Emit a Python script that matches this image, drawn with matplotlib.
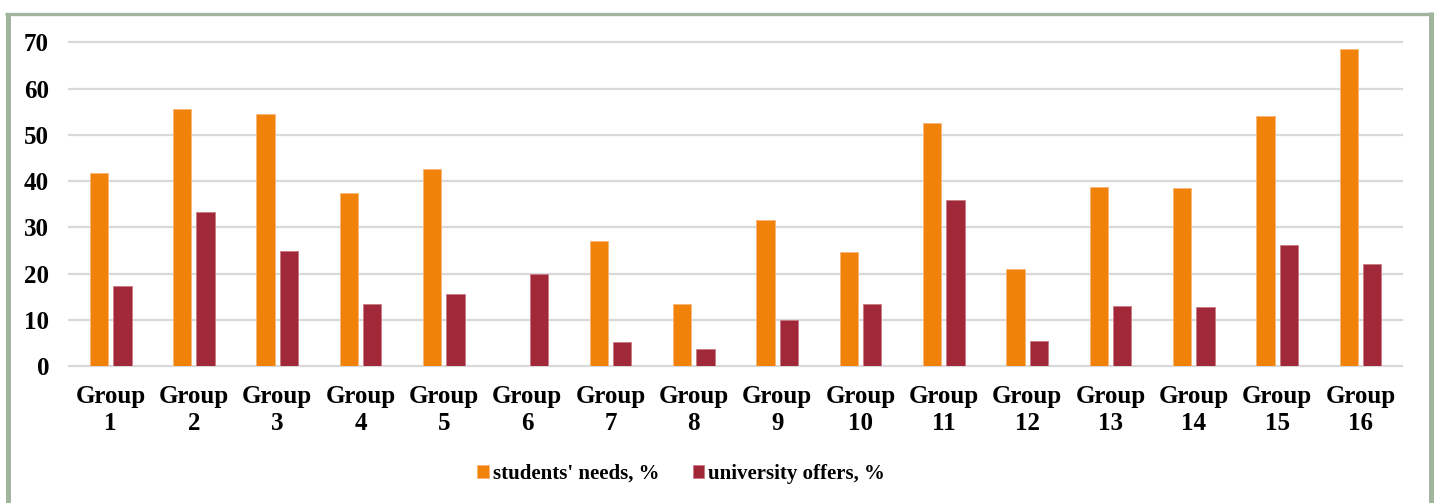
import matplotlib
matplotlib.use("Agg")
import matplotlib.pyplot as plt
from matplotlib.lines import Line2D
import numpy as np

groups = [f"Group\n{i}" for i in range(1, 17)]
students_needs = [41.7, 55.6, 54.6, 37.5, 42.5, 0, 27.1, 13.5, 31.5, 24.7, 52.5, 21.0, 38.6, 38.4, 54.1, 68.6]
university_offers = [17.2, 33.4, 24.8, 13.3, 15.5, 19.9, 5.2, 3.7, 9.9, 13.5, 35.9, 5.4, 12.9, 12.7, 26.1, 22.0]
yticks = [0, 10, 20, 30, 40, 50, 60, 70]
series_names = ["students' needs, %", "university offers, %"]

orange = "#F0820A"
red = "#A12838"

plt.rcParams['font.family'] = ['Liberation Serif', 'DejaVu Serif']
fig = plt.figure(figsize=(14.38, 5.03), dpi=100)
ax = fig.add_axes([0.048, 0.2724, 0.927, 0.6435])

x = np.arange(len(groups))
w = 0.22
off = 0.14
ax.bar(x - off, students_needs, w, color=orange, edgecolor="#F7B677", linewidth=0.6, label=series_names[0], zorder=3)
ax.bar(x + off, university_offers, w, color=red, edgecolor="#C97A85", linewidth=0.6, label=series_names[1], zorder=3)

ax.set_xlim(-0.5, len(groups) - 0.5)
ax.set_ylim(0, 70)
ax.set_yticks(yticks)
ax.set_xticks(x)
ax.set_xticklabels(groups, fontsize=18, fontweight='bold', linespacing=1.25)
ax.set_yticklabels([str(t) for t in yticks], fontsize=18, fontweight='bold')
ax.tick_params(axis='both', length=0)
ax.tick_params(axis='y', pad=14.4)
ax.tick_params(axis='x', pad=13.5)
for s in ax.spines.values():
    s.set_visible(False)
ax.grid(axis='y', color='#D9D9D9', linewidth=1.6, zorder=0)
for gl in ax.get_ygridlines():
    gl.set_clip_on(False)

fig.legend(loc='center', bbox_to_anchor=(0.4736, 0.0577), ncol=2, frameon=False,
           prop={'family': 'Liberation Serif', 'weight': 'bold', 'size': 15},
           handlelength=0.55, handleheight=0.55, handletextpad=0.2, columnspacing=1.6)

bc = "#A0B59C"
W, H = 1438, 503
fig.add_artist(Line2D([7.5 / W, 7.5 / W], [0, 1 - 13 / H], color=bc, linewidth=3.6, transform=fig.transFigure, solid_capstyle='butt'))
fig.add_artist(Line2D([5 / W, 1433 / W], [1 - 13.5 / H, 1 - 13.5 / H], color=bc, linewidth=2.4, transform=fig.transFigure, solid_capstyle='butt'))
fig.add_artist(Line2D([1430.5 / W, 1430.5 / W], [0, 1 - 12 / H], color=bc, linewidth=3.6, transform=fig.transFigure, solid_capstyle='butt'))

fig.savefig("out.png", dpi=100, facecolor='white')
